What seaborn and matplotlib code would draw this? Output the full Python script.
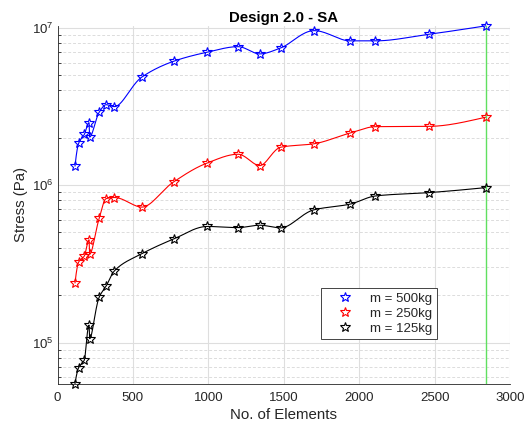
import numpy as np
import pandas as pd
import matplotlib
matplotlib.use("Agg")
import matplotlib.pyplot as plt
from matplotlib.lines import Line2D
from matplotlib.ticker import LogLocator, NullFormatter
import seaborn as sns

# Mesh sizes (number of elements) shared by all load cases
elements = [116, 140, 178, 209, 213, 278, 322, 377, 560, 771, 992,
            1197, 1341, 1480, 1701, 1940, 2108, 2464, 2840]

# Maximum stress (Pa) for each load case
stress_500 = [1.32e6, 1.84e6, 2.10e6, 2.49e6, 2.02e6, 2.92e6, 3.24e6, 3.15e6,
              4.86e6, 6.12e6, 6.98e6, 7.57e6, 6.81e6, 7.43e6, 9.57e6, 8.24e6,
              8.24e6, 9.08e6, 1.027e7]
stress_250 = [2.39e5, 3.24e5, 3.55e5, 4.49e5, 3.64e5, 6.22e5, 8.20e5, 8.34e5,
              7.25e5, 1.05e6, 1.38e6, 1.57e6, 1.33e6, 1.74e6, 1.83e6, 2.14e6,
              2.35e6, 2.36e6, 2.70e6]
stress_125 = [5.49e4, 6.93e4, 7.76e4, 1.29e5, 1.06e5, 1.96e5, 2.28e5, 2.85e5,
              3.67e5, 4.55e5, 5.46e5, 5.37e5, 5.56e5, 5.35e5, 6.97e5, 7.57e5,
              8.53e5, 8.96e5, 9.64e5]

labels = ["m = 500kg", "m = 250kg", "m = 125kg"]
colors = ["#0000ff", "#ff0000", "#000000"]
x_ticks = [0, 500, 1000, 1500, 2000, 2500, 3000]


def pchip(x, y, n_per_seg=30):
    """Shape-preserving piecewise cubic Hermite interpolation."""
    x = np.asarray(x, float)
    y = np.asarray(y, float)
    h = np.diff(x)
    delta = np.diff(y) / h
    n = len(x)
    d = np.zeros(n)
    for k in range(1, n - 1):
        if delta[k - 1] * delta[k] > 0:
            w1 = 2 * h[k] + h[k - 1]
            w2 = h[k] + 2 * h[k - 1]
            d[k] = (w1 + w2) / (w1 / delta[k - 1] + w2 / delta[k])

    def end_slope(h0, h1, d0, d1):
        s = ((2 * h0 + h1) * d0 - h0 * d1) / (h0 + h1)
        if np.sign(s) != np.sign(d0):
            s = 0.0
        elif np.sign(d0) != np.sign(d1) and abs(s) > abs(3 * d0):
            s = 3 * d0
        return s

    d[0] = end_slope(h[0], h[1], delta[0], delta[1])
    d[-1] = end_slope(h[-1], h[-2], delta[-1], delta[-2])

    xs, ys = [], []
    for k in range(n - 1):
        t = np.linspace(0, 1, n_per_seg, endpoint=(k == n - 2))
        h00 = 2 * t**3 - 3 * t**2 + 1
        h10 = t**3 - 2 * t**2 + t
        h01 = -2 * t**3 + 3 * t**2
        h11 = t**3 - t**2
        xs.append(x[k] + t * h[k])
        ys.append(h00 * y[k] + h10 * h[k] * d[k] + h01 * y[k + 1] + h11 * h[k] * d[k + 1])
    return np.concatenate(xs), np.concatenate(ys)


series = [stress_500, stress_250, stress_125]

# Smoothed curves in long form for seaborn
frames = []
for lab, ys in zip(labels, series):
    cx, cy = pchip(elements, ys)
    frames.append(pd.DataFrame({"Elements": cx, "Stress": cy, "Load": lab}))
curves = pd.concat(frames, ignore_index=True)

sns.set_theme(style="white")
plt.rcParams["font.family"] = ["Liberation Sans", "DejaVu Sans"]
plt.rcParams["mathtext.fontset"] = "custom"
plt.rcParams["mathtext.rm"] = "Liberation Sans"
plt.rcParams["mathtext.it"] = "Liberation Sans:italic"
plt.rcParams["mathtext.bf"] = "Liberation Sans:bold"

fig = plt.figure(figsize=(5.31, 4.30), dpi=100)
ax = fig.add_axes([0.1083, 0.108, 0.8522, 0.832])

ax.set_yscale("log")
ax.set_xlim(0, 3000)
y_all = np.concatenate(series)
ax.set_ylim(y_all.min(), y_all.max())

# Grid: solid major lines, dashed minor lines on the log axis
ax.set_axisbelow(True)
ax.grid(True, which="major", axis="both", color="#dedede", linewidth=0.8, linestyle="-")
ax.grid(True, which="minor", axis="y", color="#dcdcdc", linewidth=0.7, linestyle=(0, (3, 2)))

sns.lineplot(data=curves, x="Elements", y="Stress", hue="Load",
             palette=dict(zip(labels, colors)), sort=False, estimator=None,
             linewidth=0.8, legend=False, ax=ax, clip_on=False)

for lab, ys, c in zip(labels, series, colors):
    ax.plot(elements, ys, linestyle="none", marker="*", markersize=7,
            markerfacecolor="none", markeredgecolor=c, markeredgewidth=0.8,
            clip_on=False, zorder=4)

# Reference line at the finest mesh
ax.axvline(elements[-1], color="#60e060", linewidth=1.0, zorder=3)

ax.set_xticks(x_ticks)
ax.yaxis.set_major_locator(LogLocator(base=10))
ax.yaxis.set_minor_locator(LogLocator(base=10, subs=np.arange(2, 10)))
ax.yaxis.set_minor_formatter(NullFormatter())

spine_c = "#262626"
for side in ["top", "right"]:
    ax.spines[side].set_visible(False)
for side in ["left", "bottom"]:
    ax.spines[side].set_color(spine_c)
    ax.spines[side].set_linewidth(0.6)

ax.tick_params(axis="x", which="major", direction="in", length=3.5, width=0.6,
               color=spine_c, labelcolor=spine_c, labelsize=9.5, pad=6)
ax.tick_params(axis="y", which="major", direction="in", length=3.5, width=0.6,
               color=spine_c, labelcolor=spine_c, labelsize=9.5, pad=3)
ax.tick_params(axis="y", which="minor", direction="in", length=2.5, width=0.6,
               color=spine_c, left=True)

ax.set_xlabel("No. of Elements", fontsize=10.8, color=spine_c, labelpad=3)
ax.set_ylabel("Stress (Pa)", fontsize=10.8, color=spine_c, labelpad=3)
ax.set_title("Design 2.0 - SA", fontsize=10.8, fontweight="bold", color="black", pad=3)

handles = [Line2D([], [], linestyle="none", marker="*", markersize=7,
                  markerfacecolor="none", markeredgecolor=c, markeredgewidth=0.8)
           for c in colors]
leg = ax.legend(handles, labels, loc="upper left", bbox_to_anchor=(0.582, 0.267),
                borderaxespad=0, fontsize=9.5, frameon=True, fancybox=False,
                handlelength=3.0, handletextpad=0.4, labelspacing=0.2,
                borderpad=0.35)
leg.get_frame().set_edgecolor(spine_c)
leg.get_frame().set_linewidth(0.6)
leg.get_frame().set_facecolor("white")
leg.get_frame().set_alpha(1.0)
for t in leg.get_texts():
    t.set_color(spine_c)

fig.savefig("out.png", dpi=100, facecolor="white")
